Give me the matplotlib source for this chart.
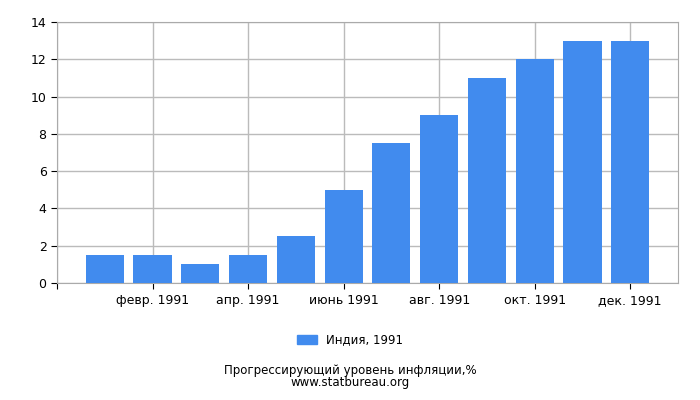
import matplotlib
matplotlib.use('Agg')
import matplotlib.pyplot as plt
from matplotlib.patches import Patch

months = ['янв. 1991', 'февр. 1991', 'март 1991', 'апр. 1991', 'май 1991', 'июнь 1991',
          'июль 1991', 'авг. 1991', 'сент. 1991', 'окт. 1991', 'нояб. 1991', 'дек. 1991']
values = [1.5, 1.5, 1.0, 1.5, 2.5, 5.0, 7.5, 9.0, 11.0, 12.0, 13.0, 13.0]
series_name = 'Индия, 1991'
title = 'Прогрессирующий уровень инфляции,%'
source = 'www.statbureau.org'

bar_color = '#418bee'
grid_color = '#bbbbbb'

fig = plt.figure(figsize=(7, 4), dpi=100)
ax = fig.add_axes([0.0814, 0.2925, 0.8872, 0.6525])

x = list(range(len(values)))
ax.bar(x, values, width=0.8, color=bar_color, zorder=3)

ax.set_xlim(-1, len(values))
ax.set_ylim(0, 14)
ax.set_yticks(range(0, 15, 2))
tick_pos = [-1] + x[1::2]
ax.set_xticks(tick_pos)
ax.set_xticklabels([''] + months[1::2])

ax.grid(True, color=grid_color, linewidth=1, zorder=0)
for side in ['top', 'right', 'left', 'bottom']:
    ax.spines[side].set_color('#aaaaaa')
ax.tick_params(axis='both', labelsize=9, color='black', length=4, direction='out')
ax.tick_params(axis='x', pad=4)

fig.legend(handles=[Patch(color=bar_color, label=series_name)],
           loc='center', bbox_to_anchor=(0.5, 0.15), frameon=False,
           fontsize=8.5, handlelength=1.7, handleheight=0.7)
fig.text(0.5, 0.074, title, ha='center', va='center', fontsize=8.5)
fig.text(0.5, 0.043, source, ha='center', va='center', fontsize=8.5)

fig.savefig('out.png', dpi=100)
